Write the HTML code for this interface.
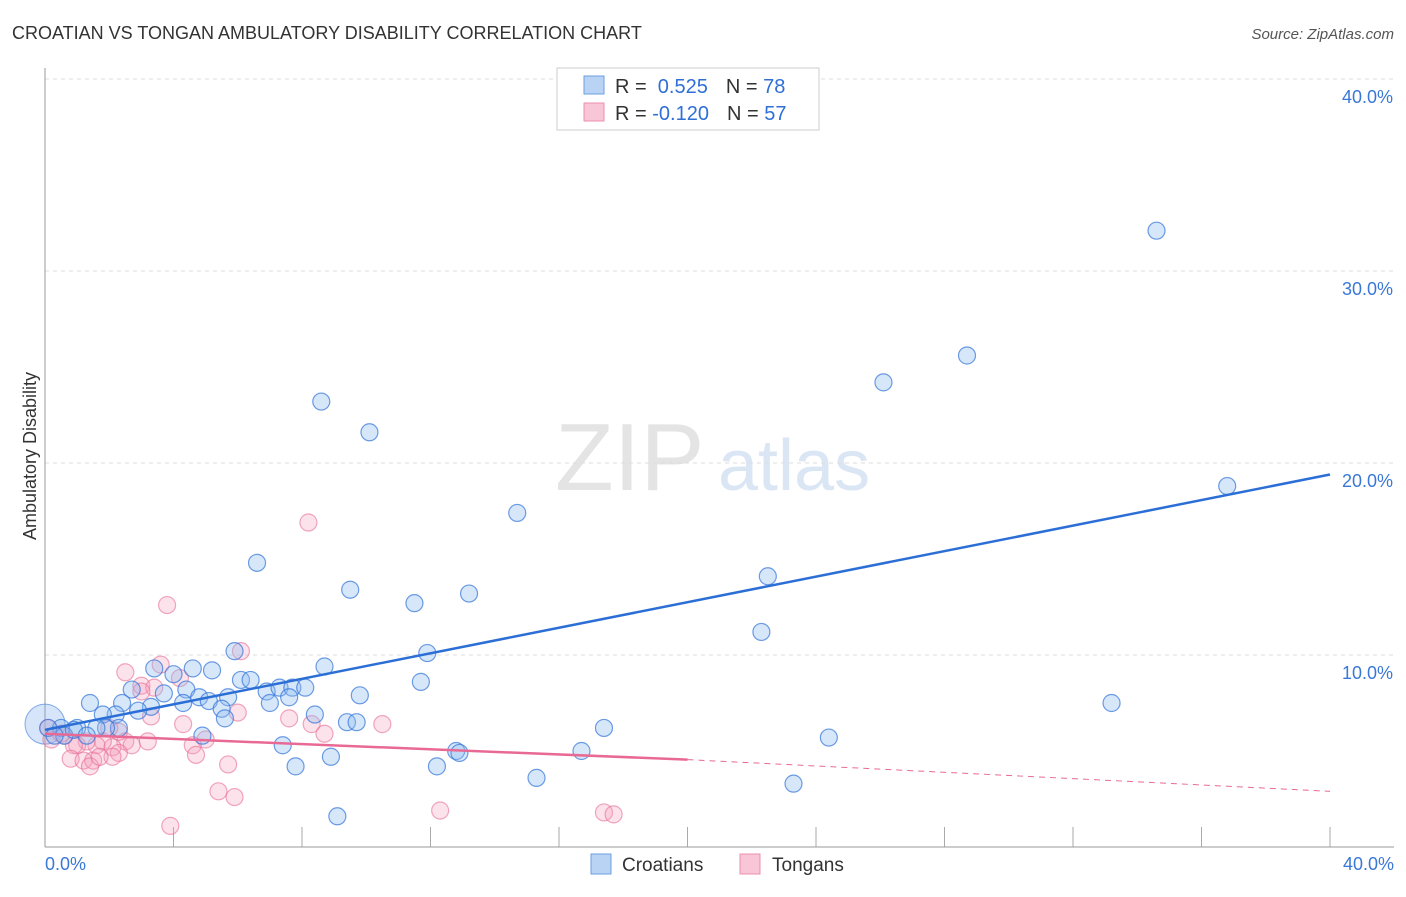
<!DOCTYPE html>
<html><head><meta charset="utf-8"><style>
body{margin:0;background:#fff;font-family:"Liberation Sans",sans-serif}
svg text{font-family:"Liberation Sans",sans-serif}
</style></head><body>
<svg id="c" width="1406" height="892" xmlns="http://www.w3.org/2000/svg">
<text x="12" y="39" font-size="18" fill="#333">CROATIAN VS TONGAN AMBULATORY DISABILITY CORRELATION CHART</text>
<text x="1394" y="39" font-size="15" fill="#555" font-style="italic" text-anchor="end">Source: ZipAtlas.com</text>
<text x="555" y="490" font-size="96" fill="#e4e4e4" font-family="Liberation Serif">ZIP</text>
<text x="718" y="490" font-size="72" fill="#dbe6f5">atlas</text>
<g id="grid"></g>
<line x1="45" y1="68" x2="45" y2="847" stroke="#999"/>
<line x1="45" y1="847" x2="1394" y2="847" stroke="#999"/>
<text x="36" y="456" font-size="18" fill="#333" transform="rotate(-90 36 456)" text-anchor="middle">Ambulatory Disability</text>
<text x="45" y="870" font-size="18" fill="#3a78d8">0.0%</text>
<text x="1394" y="870" font-size="18" fill="#3a78d8" text-anchor="end">40.0%</text>
<g id="pts"></g>
<g id="lines"></g>
<g>
<rect x="557" y="68" width="262" height="62" fill="#fff" stroke="#ccc"/>
<rect x="584" y="76" width="20" height="18" fill="#b9d3f5" stroke="#6a9fe0"/>
<rect x="584" y="103" width="20" height="18" fill="#f8c6d6" stroke="#ec8fae"/>
<text x="615" y="93" font-size="20" fill="#333">R = <tspan fill="#2f6fd6">&#160;0.525</tspan><tspan dx="18">N = </tspan><tspan fill="#2f6fd6">78</tspan></text>
<text x="615" y="120" font-size="20" fill="#333">R = <tspan fill="#2f6fd6">-0.120</tspan><tspan dx="18">N = </tspan><tspan fill="#2f6fd6">57</tspan></text>
</g>
<g>
<rect x="591" y="854" width="20" height="20" fill="#b9d3f5" stroke="#6a9fe0"/>
<text x="622" y="871" font-size="19" fill="#333">Croatians</text>
<rect x="740" y="854" width="20" height="20" fill="#f8c6d6" stroke="#ec8fae"/>
<text x="772" y="871" font-size="19" fill="#333">Tongans</text>
</g>
</svg>
<script>
const yTicks=[10,20,30,40];
const xTickVals=[4,8,12,16,20,24,28,32,36,40];
const croX=[34.6,28.7,26.1,36.8,8.6,10.1,14.7,22.5,6.6,9.5,11.5,13.2,22.3,11.9,5.9,3.4,4.6,5.2,4.0,8.7,6.1,6.4,4.4,3.7,2.7,6.9,7.3,7.7,8.1,9.8,11.7,33.2,1.4,2.4,3.3,4.3,4.8,5.1,5.7,7.0,7.6,2.9,2.2,1.8,5.5,5.6,8.4,9.4,9.7,17.4,24.4,2.3,1.9,1.0,0.5,0.1,7.4,12.8,12.9,16.7,7.8,8.9,12.2,15.3,23.3,9.1,4.9,0.6,0.3,0.9,1.6,1.3];
const croY=[32.1,25.6,24.2,18.8,23.2,21.6,17.4,14.1,14.8,13.4,12.7,13.2,11.2,10.1,10.2,9.3,9.3,9.2,9.0,9.4,8.7,8.7,8.2,8.0,8.2,8.1,8.3,8.3,8.3,7.9,8.6,7.5,7.5,7.5,7.3,7.5,7.8,7.6,7.8,7.5,7.8,7.1,6.9,6.9,7.2,6.7,6.9,6.5,6.5,6.2,5.7,6.2,6.2,6.2,6.2,6.2,5.3,5.0,4.9,5.0,4.2,4.7,4.2,3.6,3.3,1.6,5.8,5.8,5.8,6.1,6.2,5.8];
const tonX=[8.2,3.8,2.5,3.6,4.2,3.0,3.4,6.1,4.3,7.6,8.3,10.5,8.7,6.0,4.6,4.7,5.0,5.7,5.4,5.9,3.9,12.3,17.4,17.7,3.2,2.5,2.7,2.1,2.3,1.8,1.6,1.3,1.0,0.9,0.8,1.2,1.5,1.4,2.1,1.7,0.6,0.2,0.1,0.5,2.3,2.0,3.3,3.0];
const tonY=[16.9,12.6,9.1,9.5,8.8,8.4,8.3,10.2,6.4,6.7,6.4,6.4,5.9,7.0,5.3,4.8,5.6,4.3,2.9,2.6,1.1,1.9,1.8,1.7,5.5,5.5,5.3,5.2,4.9,5.5,5.3,5.5,5.3,5.3,4.6,4.5,4.5,4.2,4.7,4.7,5.8,5.6,6.2,5.9,6.0,6.2,6.8,8.1];
const croFit=[6.1,19.4];
const tonFit=[5.9,4.55,2.9];
const NS="http://www.w3.org/2000/svg";
const X=v=>45+v*32.125, Y=v=>847-v*19.2;
function mk(t,a,p){const e=document.createElementNS(NS,t);for(const k in a)e.setAttribute(k,a[k]);p.appendChild(e);return e;}
const grid=document.getElementById('grid');
yTicks.forEach(t=>{
 const l=mk('line',{x1:45,x2:1394,y1:Y(t),y2:Y(t),stroke:'#ddd','stroke-dasharray':'4 4'},grid);
 
 
 const tx=mk('text',{x:1393,y:Y(t)+24,'font-size':18,fill:'#3a78d8','text-anchor':'end'},grid);
 tx.textContent=t.toFixed(1)+'%';
 
 
});
xTickVals.forEach(t=>{
 const l=mk('line',{x1:X(t),x2:X(t),y1:827,y2:847,stroke:'#aaa'},grid);
 
 
});
const pts=document.getElementById('pts');
const big=mk('circle',{cx:X(0),cy:Y(6.4),r:20,fill:'rgba(120,170,235,0.3)',stroke:'rgba(60,120,215,0.6)'},pts);


tonX.forEach((v,i)=>{
 const c=mk('circle',{cx:X(v),cy:Y(tonY[i]),r:8.5,fill:'rgba(245,160,190,0.3)',stroke:'rgba(232,110,150,0.6)','stroke-width':1.2},pts);
 
 
});
croX.forEach((v,i)=>{
 const c=mk('circle',{cx:X(v),cy:Y(croY[i]),r:8.5,fill:'rgba(140,185,240,0.35)',stroke:'rgba(50,115,215,0.7)','stroke-width':1.2},pts);
 
 
});
const lines=document.getElementById('lines');
const bl=mk('line',{x1:X(0),y1:Y(croFit[0]),x2:X(40),y2:Y(croFit[1]),stroke:'#2b6fd6','stroke-width':2.5},lines);


const pl=mk('line',{x1:X(0),y1:Y(tonFit[0]),x2:X(20),y2:Y(tonFit[1]),stroke:'#e86a94','stroke-width':2.5},lines);


const pd=mk('line',{x1:X(20),y1:Y(tonFit[1]),x2:X(40),y2:Y(tonFit[2]),stroke:'#e86a94','stroke-width':1,'stroke-dasharray':'6 5'},lines);


</script>
</body></html>
